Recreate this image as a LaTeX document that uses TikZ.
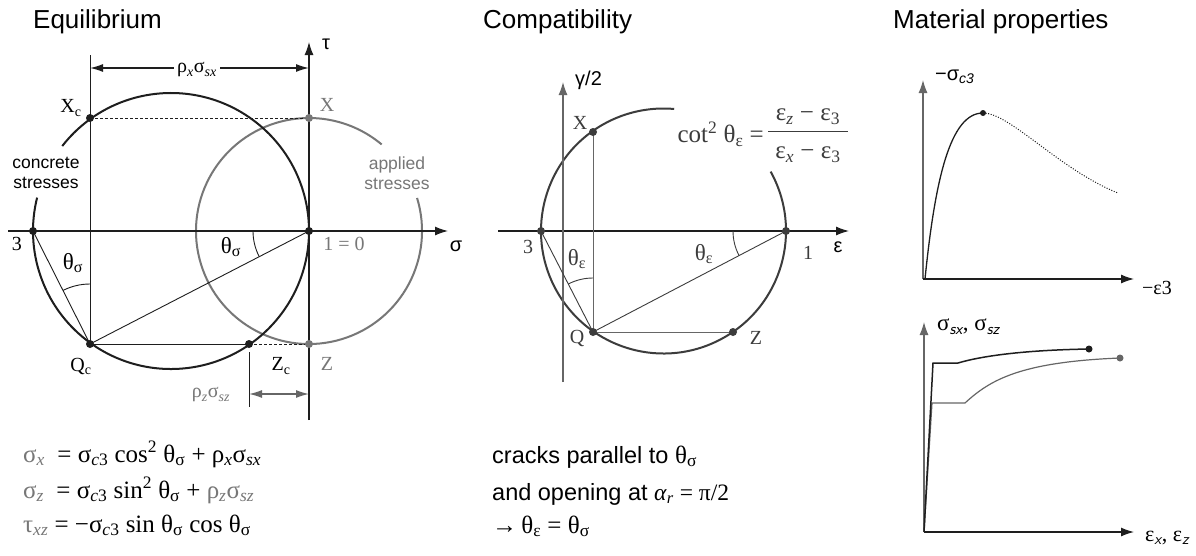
\documentclass[tikz,border=0pt]{standalone}
\usepackage{fontspec}
\setmainfont{Liberation Sans}
\newfontfamily\srf{Liberation Serif}
\usetikzlibrary{arrows.meta,calc}
\newcommand\sbs[1]{\textsubscript{#1}}
\newcommand\sps[1]{\textsuperscript{#1}}
\definecolor{blk}{HTML}{1E1E1E}
\definecolor{gry}{HTML}{777777}
\definecolor{dgry}{HTML}{3C3C3C}
\definecolor{mgry}{HTML}{666666}
\tikzset{
  ttl/.style={font=\fontsize{26}{30}\selectfont, anchor=base west, inner sep=0pt},
  slab/.style={font=\srf\fontsize{20}{24}\selectfont, inner sep=0pt},
  thlab/.style={font=\srf\fontsize{23}{26}\selectfont, inner sep=0pt},
  sslab/.style={font=\fontsize{20}{24}\selectfont, inner sep=0pt},
  note/.style={font=\fontsize{17.5}{20}\selectfont, align=center, inner sep=0pt},
  eqn/.style={font=\srf\fontsize{25}{28}\selectfont, anchor=base west, inner sep=0pt},
  frm/.style={font=\srf\fontsize{25}{28}\selectfont, inner sep=0pt, text=dgry},
  txt/.style={font=\fontsize{23.5}{26}\selectfont, anchor=base west, inner sep=0pt},
  pdot/.style={circle, inner sep=0pt, minimum size=8pt},
  axis/.style={line width=1.2pt, -{Latex[length=13pt,width=9pt]}},
  dimarr/.style={line width=1.3pt, {Latex[length=13pt,width=8pt]}-{Latex[length=13pt,width=8pt]}},
  thinl/.style={line width=0.9pt},
  dashl/.style={line width=0.9pt, dash pattern=on 3pt off 2pt},
}
\begin{document}
\begin{tikzpicture}[x=1pt,y=-1pt]
\fill[white] (0,0) rectangle (1196,555);
\useasboundingbox (0,0) rectangle (1196,555);

%% ================= Equilibrium =================
\node[ttl] (t1) at (33,28) {Equilibrium};
\coordinate (C1) at (171,231);
\coordinate (O1) at (309,231);
\coordinate (p3) at (33,231);
\coordinate (p1) at (309,231);
\coordinate (Xc) at (90,118);
\coordinate (Qc) at (90,344);
\coordinate (Zc) at (249,344);
\coordinate (X) at (309,118);
\coordinate (Z) at (309,344);
\coordinate (sigL) at (8,231);
\coordinate (sigR) at (448,231);
\coordinate (tauB) at (309,420);
\coordinate (tauT) at (309,42);
\coordinate (vtop) at (90,55);
\coordinate (dL) at (90,68);
\coordinate (dR) at (309,68);
\coordinate (tkT) at (249,352);
\coordinate (tkB) at (249,407);
\coordinate (dzL) at (249,394);
\coordinate (dzR) at (309,394);

% circles
\draw[gry, line width=2pt] ([shift={(-17:113)}]O1) arc[start angle=-17, end angle=310, radius=113];
\draw[blk, line width=2pt] ([shift={(-142:138)}]C1) arc[start angle=-142, end angle=194, radius=138];
% axes
\draw[axis, blk] (sigL) -- (sigR);
\draw[axis, blk] (tauB) -- (tauT);
\node[sslab] (siglab) at (456,246) {σ};
\node[sslab] (taulab) at (326,44) {τ};
% construction lines
\draw[thinl, blk] (vtop) -- (Qc);
\draw[dashl, blk] (Xc) -- (X);
\draw[dashl, blk] (Zc) -- (Z);
\draw[thinl, blk] (Qc) -- (Zc);
\draw[thinl, blk] (Qc) -- (p1);
\draw[thinl, blk] (Qc) -- (p3);
\draw[thinl, blk] ([shift={(152.7:56)}]p1) arc[start angle=152.7, end angle=180, radius=56];
\draw[thinl, blk] ([shift={(-116.8:60)}]Qc) arc[start angle=-116.8, end angle=-90, radius=60];
% dimensions
\draw[dimarr, blk] (dL) -- (dR);
\node[slab, fill=white, inner xsep=3pt] (rxs) at (197,70) {ρ\sbs{\textit{x}}σ\sbs{\textit{sx}}};
\draw[thinl, blk] (tkT) -- (tkB);
\draw[dimarr, mgry] (dzL) -- (dzR);
\node[slab, text=gry] (rzs) at (211,395) {ρ\sbs{\textit{z}}σ\sbs{\textit{sz}}};
% dots
\node[pdot, fill=gry] (Xd) at (X) {};
\node[pdot, fill=gry] (Zd) at (Z) {};
\node[pdot, fill=blk] (p3d) at (p3) {};
\node[pdot, fill=blk] (p1d) at (p1) {};
\node[pdot, fill=blk] (Xcd) at (Xc) {};
\node[pdot, fill=blk] (Qcd) at (Qc) {};
\node[pdot, fill=blk] (Zcd) at (Zc) {};
% labels
\node[slab] (l3) at (17,244) {3};
\node[slab, text=gry] (l10) at (344,244) {1 = 0};
\node[thlab] (lth1) at (231,247) {θ\sbs{σ}};
\node[thlab] (lth2) at (73,263) {θ\sbs{σ}};
\node[slab] (lXc) at (71,108) {X\sbs{c}};
\node[slab, text=gry] (lX) at (327,105) {X};
\node[slab] (lQc) at (81,366) {Q\sbs{c}};
\node[slab] (lZc) at (281,366) {Z\sbs{c}};
\node[slab, text=gry] (lZ) at (327,364) {Z};
\node[note] (conc) at (46,173) {concrete\\stresses};
\node[note, text=gry] (appl) at (397,173) {applied\\stresses};
% equations
\node[eqn] (eq1) at (23,462) {{\color{gry}σ\sbs{\textit{x}}}\ \ = σ\sbs{\textit{c}3} cos\sps{2} θ\sbs{σ} + ρ\sbs{\textit{x}}σ\sbs{\textit{sx}}};
\node[eqn] (eq2) at (23,498) {{\color{gry}σ\sbs{\textit{z}}}\ \ = σ\sbs{\textit{c}3} sin\sps{2} θ\sbs{σ} + {\color{gry}ρ\sbs{\textit{z}}σ\sbs{\textit{sz}}}};
\node[eqn] (eq3) at (23,532) {{\color{gry}τ\sbs{\textit{xz}}}\ = −σ\sbs{\textit{c}3} sin θ\sbs{σ} cos θ\sbs{σ}};

%% ================= Compatibility =================
\node[ttl] (t2) at (483,28) {Compatibility};
\coordinate (C2) at (663.5,231);
\coordinate (m3) at (541,231);
\coordinate (m1) at (786,231);
\coordinate (mX) at (593,132);
\coordinate (mQ) at (593,332);
\coordinate (mZ) at (733,332);
\coordinate (eL) at (498,231);
\coordinate (eR) at (849,231);
\coordinate (gB) at (563,382);
\coordinate (gT) at (563,82);
\draw[dgry, line width=2pt] ([shift={(-29:122.5)}]C2) arc[start angle=-29, end angle=275, radius=122.5];
\draw[axis, blk] (eL) -- (eR);
\draw[axis, mgry] (gB) -- (gT);
\node[sslab] (elab) at (838,247) {ε};
\node[sslab, anchor=west] (glab) at (575,80) {γ/2};
\draw[thinl, mgry] (mX) -- (mQ);
\draw[thinl, mgry] (mQ) -- (mZ);
\draw[thinl, dgry] (mQ) -- (m1);
\draw[thinl, dgry] (mQ) -- (m3);
\draw[thinl, dgry] ([shift={(152.4:53)}]m1) arc[start angle=152.4, end angle=180, radius=53];
\draw[thinl, dgry] ([shift={(-117.2:54)}]mQ) arc[start angle=-117.2, end angle=-90, radius=54];
\node[pdot, fill=dgry] (m3d) at (m3) {};
\node[pdot, fill=dgry] (m1d) at (m1) {};
\node[pdot, fill=dgry] (mXd) at (mX) {};
\node[pdot, fill=dgry] (mQd) at (mQ) {};
\node[pdot, fill=dgry] (mZd) at (mZ) {};
\node[slab, text=dgry] (ml3) at (528,247) {3};
\node[slab, text=dgry] (ml1) at (808,253) {1};
\node[slab, text=dgry] (mlX) at (580,123) {X};
\node[slab, text=dgry] (mlQ) at (577,338) {Q};
\node[slab, text=dgry] (mlZ) at (756,338) {Z};
\node[thlab, text=dgry] (mth1) at (704,254) {θ\sbs{ε}};
\node[thlab, text=dgry] (mth2) at (577,259) {θ\sbs{ε}};
% cot formula
\node[frm, anchor=east] (cotl) at (764,134) {cot\sps{2} θ\sbs{ε} =};
\node[frm] (num) at (808,117) {ε\sbs{\textit{z}} − ε\sbs{3}};
\node[frm] (den) at (808,155) {ε\sbs{\textit{x}} − ε\sbs{3}};
\coordinate (fbL) at (768,131);
\coordinate (fbR) at (848,131);
\draw[dgry, line width=0.8pt] (fbL) -- (fbR);
% text
\node[txt] (c1) at (492,463) {cracks parallel to {\srf\fontsize{25}{28}\selectfont θ\sbs{σ}}};
\node[txt] (c2) at (492,500) {and opening at {\srf\textit{α}\sbs{\textit{r}} = π/2}};
\node[txt] (c3) at (492,533) {{\srf\fontsize{25}{28}\selectfont →\,θ\sbs{ε} = θ\sbs{σ}}};

%% ================= Material properties =================
\node[ttl] (t3) at (893,28) {Material properties};
\coordinate (uO) at (923,279);
\coordinate (uT) at (923,80);
\coordinate (uR) at (1134,279);
\coordinate (uS) at (925,279);
\coordinate (uP) at (983,113);
\coordinate (uE) at (1118,193);
\draw[axis, mgry] (uO) -- (uT);
\draw[axis, blk] (uO) -- (uR);
\draw[blk, line width=1.3pt] (uS) .. controls (935,180) and (950,113) .. (uP);
\draw[blk, line width=1pt, dash pattern=on 1pt off 1.6pt] (uP) .. controls (1010,113) and (1060,170) .. (uE);
\node[circle, fill=blk, inner sep=0pt, minimum size=6pt] (uPd) at (uP) {};
\node[sslab, anchor=west] (usig) at (935,77) {−σ\sbs{\textit{c3}}};
\node[slab] (ueps) at (1157,288) {−ε3};

\coordinate (lO) at (924,532);
\coordinate (lT) at (924,322);
\coordinate (lR) at (1134,532);
\coordinate (bk1) at (933,363);
\coordinate (bk2) at (958,363);
\coordinate (bkE) at (1089,349);
\coordinate (gk1) at (932,403);
\coordinate (gk2) at (965,403);
\coordinate (gkE) at (1120,358);
\draw[axis, mgry] (lO) -- (lT);
\draw[axis, blk] (lO) -- (lR);
\draw[mgry, line width=1.2pt] (lO) -- (gk1) -- (gk2) .. controls (990,380) and (1020,362) .. (gkE);
\draw[blk, line width=1.5pt] (lO) -- (bk1) -- (bk2) .. controls (985,355) and (1030,350) .. (bkE);
\node[circle, fill=blk, inner sep=0pt, minimum size=7pt] (bkd) at (bkE) {};
\node[circle, fill=mgry, inner sep=0pt, minimum size=7pt] (gkd) at (gkE) {};
\node[anchor=west, inner sep=0pt, font=\srf\fontsize{23}{26}\selectfont] (lsig) at (937,327) {σ\sbs{\sffamily\itshape sx}, σ\sbs{\sffamily\itshape sz}};
\node[anchor=west, inner sep=0pt, font=\srf\fontsize{22}{26}\selectfont] (leps) at (1145,538) {ε\sbs{\sffamily\itshape x}, ε\sbs{\sffamily\itshape z}};
\end{tikzpicture}
\end{document}
